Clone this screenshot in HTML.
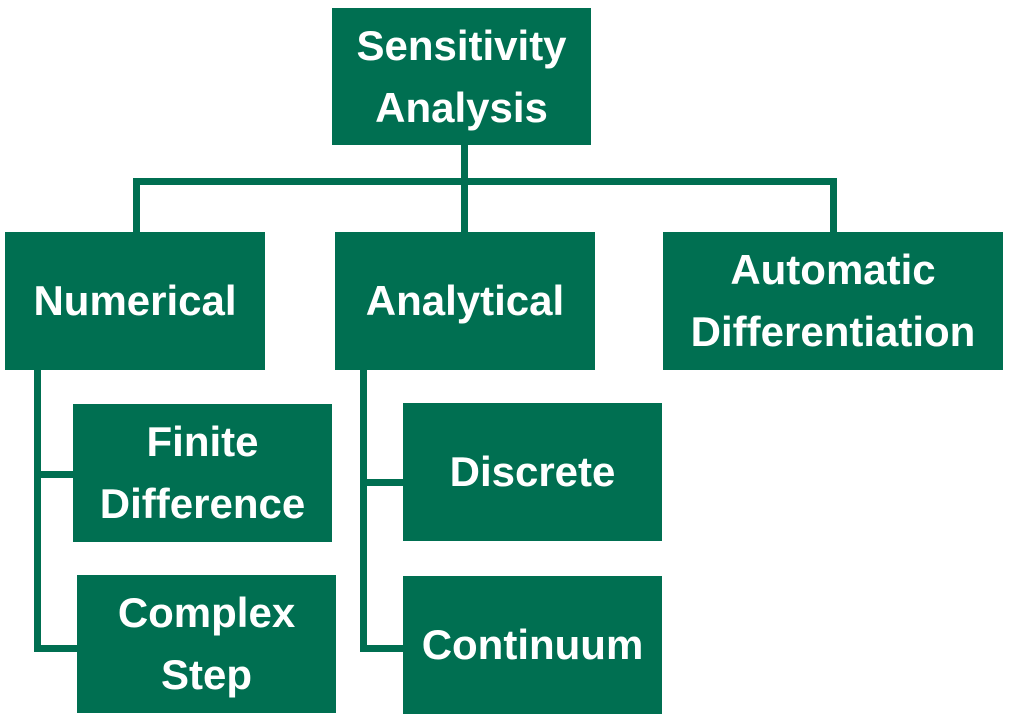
<!DOCTYPE html>
<html><head><style>
body{margin:0;width:1009px;height:721px;background:#fff;position:relative;overflow:hidden;font-family:"Liberation Sans",sans-serif}
.b{position:absolute;background:#006f51;color:#fff;font-weight:bold;font-size:42px;letter-spacing:0;line-height:62px;display:flex;align-items:center;justify-content:center;text-align:center}
.l{position:absolute;background:#006f51}
</style></head><body>
<div class="b" style="left:332px;top:8px;width:259px;height:137px">Sensitivity<br>Analysis</div>
<div class="b" style="left:5px;top:232px;width:260px;height:138px">Numerical</div>
<div class="b" style="left:335px;top:232px;width:260px;height:138px">Analytical</div>
<div class="b" style="left:663px;top:232px;width:340px;height:138px">Automatic<br>Differentiation</div>
<div class="b" style="left:73px;top:404px;width:259px;height:138px">Finite<br>Difference</div>
<div class="b" style="left:77px;top:575px;width:259px;height:138px">Complex<br>Step</div>
<div class="b" style="left:403px;top:403px;width:259px;height:138px">Discrete</div>
<div class="b" style="left:403px;top:576px;width:259px;height:138px">Continuum</div>
<div class="l" style="left:133px;top:178px;width:704px;height:7px"></div>
<div class="l" style="left:461px;top:145px;width:7px;height:40px"></div>
<div class="l" style="left:133px;top:178px;width:7px;height:54px"></div>
<div class="l" style="left:461px;top:178px;width:7px;height:54px"></div>
<div class="l" style="left:830px;top:178px;width:7px;height:54px"></div>
<div class="l" style="left:34px;top:370px;width:7px;height:282px"></div>
<div class="l" style="left:34px;top:471px;width:40px;height:7px"></div>
<div class="l" style="left:34px;top:645px;width:44px;height:7px"></div>
<div class="l" style="left:360px;top:370px;width:7px;height:282px"></div>
<div class="l" style="left:360px;top:479px;width:44px;height:7px"></div>
<div class="l" style="left:360px;top:645px;width:44px;height:7px"></div>
</body></html>
